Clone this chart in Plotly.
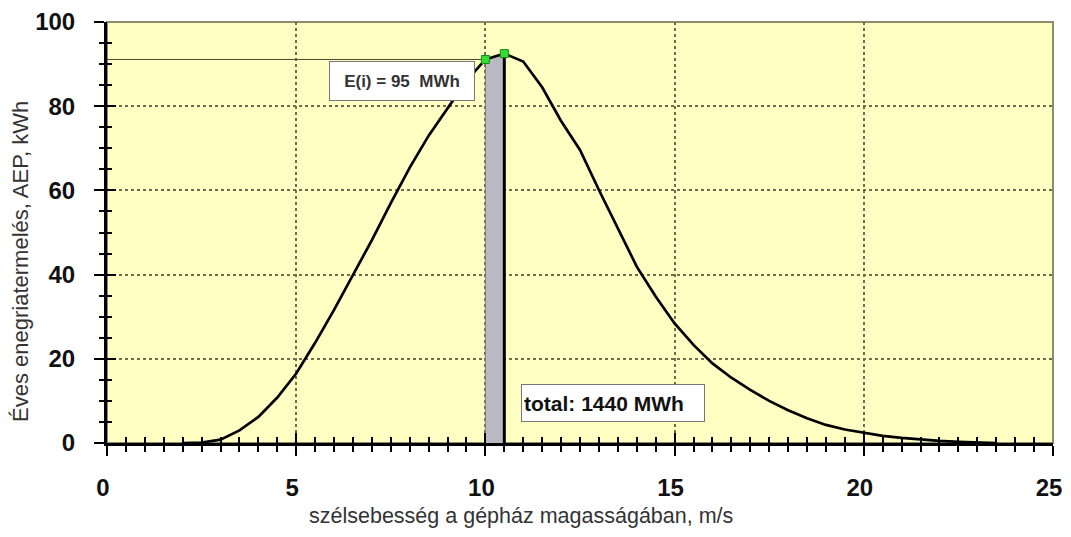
import plotly.graph_objects as go

# szélsebesség (m/s) és az adott sávra jutó éves energiatermelés
wind_speed = [2.0, 2.5, 3.0, 3.5, 4.0, 4.5, 5.0, 5.5, 6.0, 6.5, 7.0, 7.5, 8.0, 8.5,
              9.0, 9.5, 10.0, 10.5, 11.0, 11.5, 12.0, 12.5, 13.0, 13.5, 14.0, 14.5,
              15.0, 15.5, 16.0, 16.5, 17.0, 17.5, 18.0, 18.5, 19.0, 19.5, 20.0, 20.5,
              21.0, 21.5, 22.0, 22.5, 23.0, 23.5]
aep = [0.0, 0.1, 0.8, 3.0, 6.2, 10.8, 16.5, 23.8, 31.6, 39.8, 48.2, 57.0, 65.4, 73.0,
       79.5, 86.0, 91.1, 92.5, 90.6, 84.5, 76.5, 69.6, 60.1, 50.8, 41.9, 34.8,
       28.4, 23.3, 18.9, 15.5, 12.6, 10.0, 7.8, 5.9, 4.3, 3.2, 2.4, 1.7,
       1.2, 0.8, 0.5, 0.3, 0.15, 0.0]

# kiemelt sáv
bin_start = 10.0
bin_end = 10.5
label_bin = "E(i) = 95&nbsp; MWh"
label_total = "total: 1440 MWh"

x_title = "szélsebesség a gépház magasságában, m/s"
y_title = "Éves enegriatermelés, AEP, kWh"

i0 = wind_speed.index(bin_start)
i1 = wind_speed.index(bin_end)

fig = go.Figure()

# szürke sáv
fig.add_trace(
    go.Scatter(
        x=[bin_start, bin_start, bin_end, bin_end],
        y=[0, aep[i0], aep[i1], 0],
        fill="toself",
        fillcolor="#b9b9c4",
        mode="lines",
        line=dict(color="#7a7a7a", width=1),
        hoverinfo="skip",
        showlegend=False
    )
)

# sáv jobb széle
fig.add_trace(
    go.Scatter(
        x=[bin_end, bin_end],
        y=[0, aep[i1]],
        mode="lines",
        line=dict(color="black", width=3),
        showlegend=False
    )
)

# vízszintes segédvonal
fig.add_trace(
    go.Scatter(
        x=[0, bin_start],
        y=[aep[i0], aep[i0]],
        mode="lines",
        line=dict(color="#4a4a30", width=1),
        showlegend=False
    )
)

# AEP görbe
fig.add_trace(
    go.Scatter(
        x=wind_speed,
        y=aep,
        mode="lines",
        line=dict(color="black", width=2.7),
        showlegend=False
    )
)

# zöld jelölők
fig.add_trace(
    go.Scatter(
        x=[bin_start, bin_end],
        y=[aep[i0], aep[i1]],
        mode="markers",
        marker=dict(symbol="square", size=8, color="#33dd33",
                    line=dict(color="#1a8a1a", width=1)),
        showlegend=False
    )
)

# befelé mutató osztások a második tengelyen
fig.add_trace(
    go.Scatter(x=[0], y=[0], xaxis="x2", yaxis="y2", mode="markers",
               marker=dict(opacity=0), showlegend=False, hoverinfo="skip")
)

fig.add_annotation(
    x=7.8, y=85.9, xref="x", yref="y",
    text="<b>" + label_bin + "</b>",
    showarrow=False,
    font=dict(family="Liberation Sans, Arial", size=17, color="#333333"),
    bgcolor="white", bordercolor="#777777", borderwidth=1,
    width=140, height=34, borderpad=2
)

fig.add_annotation(
    x=13.37, y=9.4, xref="x", yref="y",
    text="<b>" + label_total + "</b>",
    showarrow=False, align="left",
    font=dict(family="Liberation Sans, Arial", size=21, color="#111111"),
    bgcolor="white", bordercolor="#777777", borderwidth=1,
    width=178, height=32, borderpad=2
)

# tengelyfeliratok
fig.add_annotation(
    x=0.4376, y=-0.1734, xref="paper", yref="paper",
    xanchor="center", yanchor="middle",
    text=x_title, showarrow=False,
    font=dict(family="Liberation Sans, Arial", size=21.5, color="#333333")
)
fig.add_annotation(
    x=-0.0909, y=0.43, xref="paper", yref="paper",
    xanchor="center", yanchor="middle",
    text=y_title, showarrow=False, textangle=-90,
    font=dict(family="Liberation Sans, Arial", size=22, color="#333333")
)

# keret felül és jobbra
fig.add_shape(
    type="rect", xref="paper", yref="paper", x0=0, y0=0, x1=1, y1=1,
    line=dict(color="#8c8c6c", width=2), layer="below"
)

tick_font = dict(family="Liberation Sans, Arial", size=24, color="#111111")

# az oldal 8 px-es margóját levonva, görgetősáv nélkül
fig.update_layout(
    width=1055,
    height=521,
    margin=dict(l=99, r=10, t=14, b=86, autoexpand=False),
    paper_bgcolor="white",
    plot_bgcolor="#FFFFC4",
    font=dict(family="Liberation Sans, Arial"),
    xaxis=dict(
        range=[0, 25], dtick=5, tick0=0,
        showline=True, linecolor="black", linewidth=3,
        ticks="outside", ticklen=10, tickwidth=2, tickcolor="black",
        minor=dict(dtick=0.5, ticks="outside", ticklen=6, tickwidth=2,
                   tickcolor="black", showgrid=False),
        showgrid=True, gridcolor="#6e6e48", griddash="dot", gridwidth=1.5,
        zeroline=False, automargin=False,
        tickfont=tick_font, ticklabelstandoff=11, ticklabelshift=-4,
        ticklabeloverflow="allow",
        tickprefix="<b>", ticksuffix="</b>"
    ),
    yaxis=dict(
        range=[0, 100], dtick=20, tick0=0,
        showline=True, linecolor="black", linewidth=3,
        ticks="outside", ticklen=10, tickwidth=2, tickcolor="black",
        minor=dict(dtick=5, ticks="outside", ticklen=5, tickwidth=2,
                   tickcolor="black", showgrid=False),
        showgrid=True, gridcolor="#6e6e48", griddash="dot", gridwidth=1.5,
        zeroline=False, automargin=False,
        tickfont=tick_font, ticklabelstandoff=14,
        tickprefix="<b>", ticksuffix="</b>"
    ),
    xaxis2=dict(
        range=[0, 25], dtick=5, overlaying="x", anchor="y2", side="bottom",
        ticks="inside", ticklen=10, tickwidth=2, tickcolor="black",
        minor=dict(dtick=0.5, ticks="inside", ticklen=6, tickwidth=2,
                   tickcolor="black"),
        showticklabels=False, showgrid=False, zeroline=False, showline=False,
        automargin=False
    ),
    yaxis2=dict(
        range=[0, 100], dtick=20, overlaying="y", anchor="x2", side="left",
        ticks="inside", ticklen=9, tickwidth=2, tickcolor="black",
        minor=dict(dtick=5, ticks="inside", ticklen=5, tickwidth=2,
                   tickcolor="black"),
        showticklabels=False, showgrid=False, zeroline=False, showline=False,
        automargin=False
    ),
    showlegend=False
)

fig.write_html("out.html")
